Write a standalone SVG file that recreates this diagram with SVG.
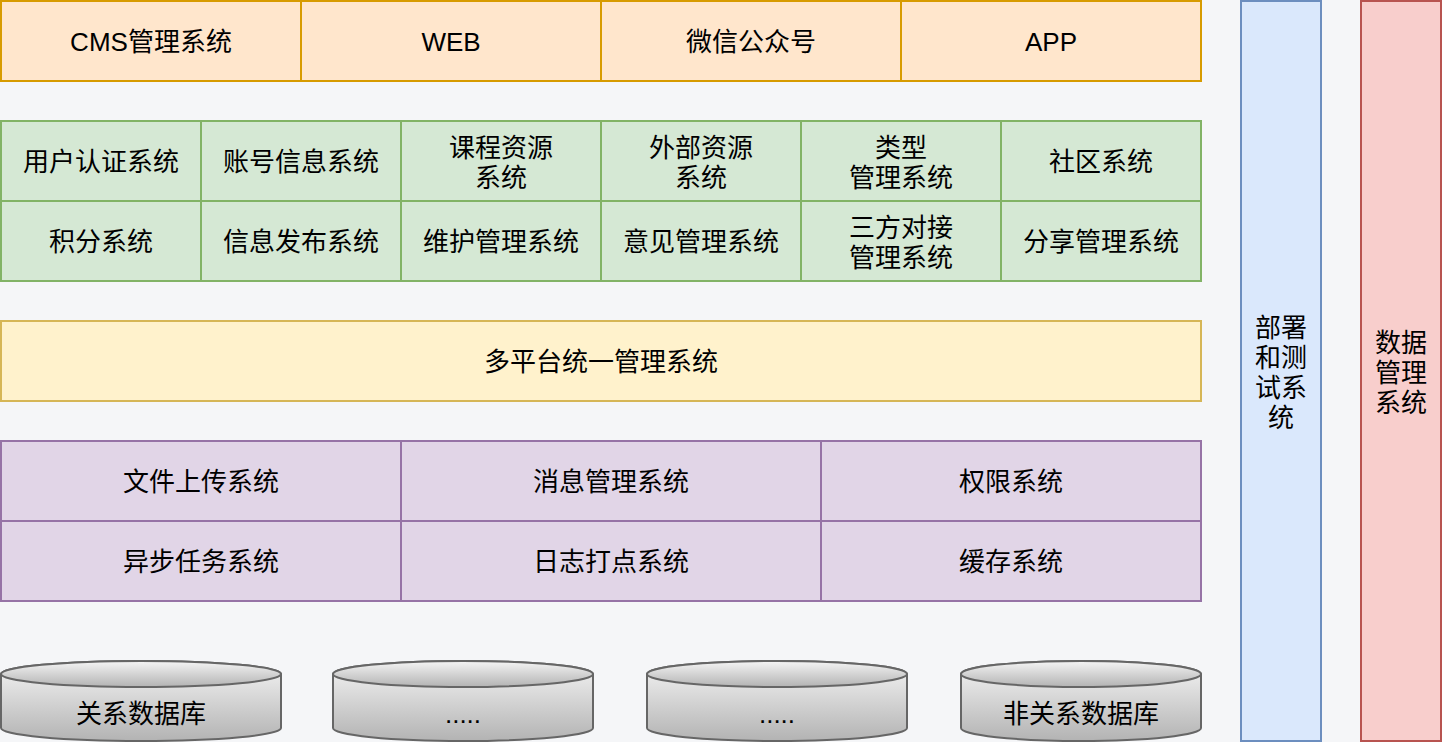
<svg xmlns="http://www.w3.org/2000/svg" width="1442" height="742" viewBox="0 0 1442 742">
<style>
text{font-family:"Liberation Sans","Noto Sans CJK SC",sans-serif;font-size:26px;fill:#000;text-anchor:middle}
.o{fill:#ffe6cc;stroke:#d79b00;stroke-width:2}
.g{fill:#d5e8d4;stroke:#82b366;stroke-width:2}
.y{fill:#fff2cc;stroke:#d6b656;stroke-width:2}
.p{fill:#e1d5e7;stroke:#9673a6;stroke-width:2}
.b{fill:#dae8fc;stroke:#6c8ebf;stroke-width:2}
.r{fill:#f8cecc;stroke:#b85450;stroke-width:2}
.c{fill:url(#cg);stroke:#666;stroke-width:2}
</style>
<defs>
<linearGradient id="cg" x1="0" y1="0" x2="0" y2="1">
<stop offset="0" stop-color="#f5f5f5"/>
<stop offset="1" stop-color="#b3b3b3"/>
</linearGradient>
</defs>
<rect width="1442" height="742" fill="#f5f6f8"/>
<g id="top">
<g id="cms"><rect class="o" x="1" y="1" width="300" height="80"/><text x="151" y="51">CMS管理系统</text></g>
<g id="web"><rect class="o" x="301" y="1" width="300" height="80"/><text x="451" y="51">WEB</text></g>
<g id="wechat"><rect class="o" x="601" y="1" width="300" height="80"/><text x="751" y="51">微信公众号</text></g>
<g id="app"><rect class="o" x="901" y="1" width="300" height="80"/><text x="1051" y="51">APP</text></g>
</g>
<g id="biz">
<g id="g1"><rect class="g" x="1" y="121" width="200" height="80"/><text x="101" y="171">用户认证系统</text></g>
<g id="g2"><rect class="g" x="201" y="121" width="200" height="80"/><text x="301" y="171">账号信息系统</text></g>
<g id="g3"><rect class="g" x="401" y="121" width="200" height="80"/><text x="501" y="157">课程资源</text><text x="501" y="187">系统</text></g>
<g id="g4"><rect class="g" x="601" y="121" width="200" height="80"/><text x="701" y="157">外部资源</text><text x="701" y="187">系统</text></g>
<g id="g5"><rect class="g" x="801" y="121" width="200" height="80"/><text x="901" y="157">类型</text><text x="901" y="187">管理系统</text></g>
<g id="g6"><rect class="g" x="1001" y="121" width="200" height="80"/><text x="1101" y="171">社区系统</text></g>
<g id="g7"><rect class="g" x="1" y="201" width="200" height="80"/><text x="101" y="251">积分系统</text></g>
<g id="g8"><rect class="g" x="201" y="201" width="200" height="80"/><text x="301" y="251">信息发布系统</text></g>
<g id="g9"><rect class="g" x="401" y="201" width="200" height="80"/><text x="501" y="251">维护管理系统</text></g>
<g id="g10"><rect class="g" x="601" y="201" width="200" height="80"/><text x="701" y="251">意见管理系统</text></g>
<g id="g11"><rect class="g" x="801" y="201" width="200" height="80"/><text x="901" y="237">三方对接</text><text x="901" y="267">管理系统</text></g>
<g id="g12"><rect class="g" x="1001" y="201" width="200" height="80"/><text x="1101" y="251">分享管理系统</text></g>
</g>
<g id="unified"><rect class="y" x="1" y="321" width="1200" height="80"/><text x="601" y="371">多平台统一管理系统</text></g>
<g id="base">
<g id="p1"><rect class="p" x="1" y="441" width="400" height="80"/><text x="201" y="491">文件上传系统</text></g>
<g id="p2"><rect class="p" x="401" y="441" width="420" height="80"/><text x="611" y="491">消息管理系统</text></g>
<g id="p3"><rect class="p" x="821" y="441" width="380" height="80"/><text x="1011" y="491">权限系统</text></g>
<g id="p4"><rect class="p" x="1" y="521" width="400" height="80"/><text x="201" y="571">异步任务系统</text></g>
<g id="p5"><rect class="p" x="401" y="521" width="420" height="80"/><text x="611" y="571">日志打点系统</text></g>
<g id="p6"><rect class="p" x="821" y="521" width="380" height="80"/><text x="1011" y="571">缓存系统</text></g>
</g>
<g id="deploy"><rect class="b" x="1241" y="1" width="80" height="740"/><text x="1281" y="337">部署</text><text x="1281" y="367">和测</text><text x="1281" y="397">试系</text><text x="1281" y="427">统</text></g>
<g id="data"><rect class="r" x="1361" y="1" width="80" height="740"/><text x="1401" y="352">数据</text><text x="1401" y="382">管理</text><text x="1401" y="412">系统</text></g>
<g id="db1"><path class="c" d="M1 674 A140 13 0 0 1 281 674 L281 728 A140 13 0 0 1 1 728 Z"/><ellipse class="c" cx="141" cy="674" rx="140" ry="13"/><text x="141" y="723">关系数据库</text></g>
<g id="db2"><path class="c" d="M333 674 A130 13 0 0 1 593 674 L593 728 A130 13 0 0 1 333 728 Z"/><ellipse class="c" cx="463" cy="674" rx="130" ry="13"/><text x="463" y="723">.....</text></g>
<g id="db3"><path class="c" d="M647 674 A130 13 0 0 1 907 674 L907 728 A130 13 0 0 1 647 728 Z"/><ellipse class="c" cx="777" cy="674" rx="130" ry="13"/><text x="777" y="723">.....</text></g>
<g id="db4"><path class="c" d="M961 674 A120 13 0 0 1 1201 674 L1201 728 A120 13 0 0 1 961 728 Z"/><ellipse class="c" cx="1081" cy="674" rx="120" ry="13"/><text x="1081" y="723">非关系数据库</text></g>
<g id="connectors"/>
</svg>
